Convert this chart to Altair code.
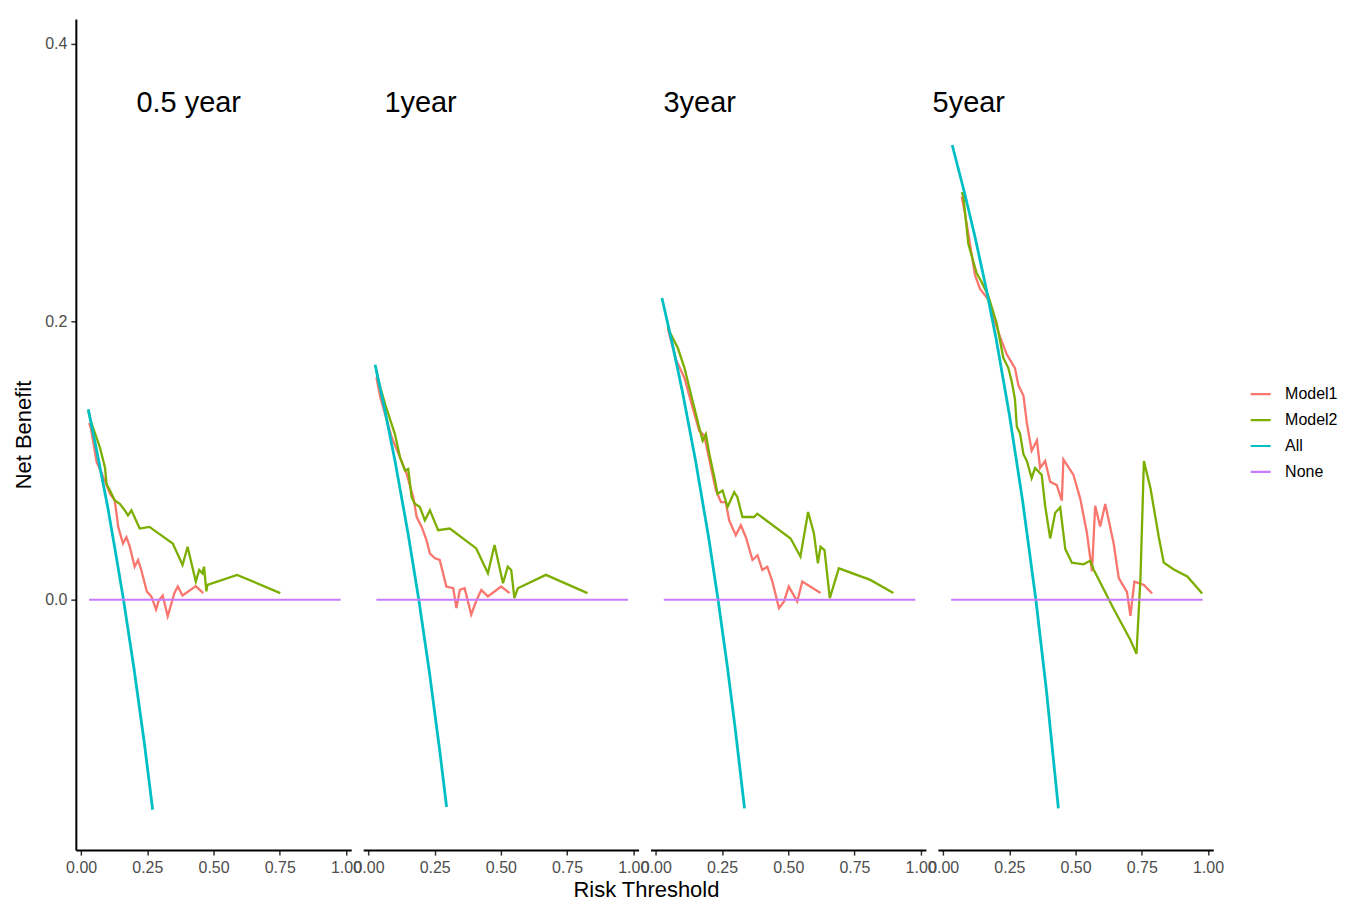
import altair as alt
import pandas as pd

FONT = "Liberation Sans"

panel_order = ["0.5 year", "1year", "3year", "5year"]
series_order = ["Model1", "Model2", "All", "None"]
series_colors = ["#F8766D", "#7CAE00", "#00BFC4", "#C77CFF"]

# panel title positions (left edge of text, baseline)
label_x = [0.209, 0.06, 0.029, -0.04]
label_y = [0.351, 0.351, 0.351, 0.351]

# ---- 0.5 year ----
all_05_x = [0.027, 0.06, 0.10, 0.13, 0.16, 0.20, 0.24, 0.27]
all_05_y = [0.137, 0.106, 0.067, 0.034, 0.0, -0.05, -0.105, -0.151]
m1_05_x = [0.03, 0.036, 0.059, 0.084, 0.110, 0.127, 0.140, 0.158, 0.171, 0.184, 0.202, 0.215,
           0.227, 0.248, 0.265, 0.283, 0.293, 0.308, 0.327, 0.352, 0.365, 0.383, 0.433, 0.461]
m1_05_y = [0.127, 0.124, 0.0988, 0.088, 0.076, 0.0714, 0.0524, 0.0405, 0.045, 0.038, 0.0238, 0.0286,
           0.0214, 0.006, 0.0024, -0.0071, -0.0005, 0.0031, -0.0119, 0.0048, 0.0095, 0.0031, 0.0098, 0.0048]
m2_05_x = [0.027, 0.036, 0.071, 0.090, 0.096, 0.115, 0.127, 0.146, 0.165, 0.177, 0.190, 0.221,
           0.258, 0.346, 0.383, 0.402, 0.433, 0.446, 0.458, 0.464, 0.473, 0.477, 0.589, 0.752]
m2_05_y = [0.136, 0.1286, 0.1095, 0.0952, 0.0833, 0.0762, 0.0714, 0.069, 0.0643, 0.0607, 0.0643, 0.0512,
           0.0524, 0.0405, 0.025, 0.0381, 0.0131, 0.0214, 0.019, 0.0238, 0.006, 0.0107, 0.0179, 0.0048]

# ---- 1 year ----
all_1_x = [0.025, 0.06, 0.10, 0.15, 0.19, 0.23, 0.27, 0.295]
all_1_y = [0.169, 0.138, 0.100, 0.047, 0.0, -0.052, -0.110, -0.149]
m1_1_x = [0.030, 0.044, 0.063, 0.088, 0.119, 0.144, 0.169, 0.182, 0.201, 0.219, 0.232, 0.251,
          0.269, 0.294, 0.320, 0.332, 0.345, 0.363, 0.388, 0.407, 0.426, 0.451, 0.501, 0.533]
m1_1_y = [0.160, 0.146, 0.1333, 0.1167, 0.1024, 0.0905, 0.0738, 0.0595, 0.0524, 0.0429, 0.0333, 0.0298,
          0.0286, 0.0095, 0.0083, -0.006, 0.0071, 0.0083, -0.0107, -0.0007, 0.0071, 0.0024, 0.0095, 0.0048]
m2_1_x = [0.030, 0.038, 0.063, 0.100, 0.119, 0.138, 0.150, 0.163, 0.175, 0.194, 0.213, 0.232,
          0.263, 0.307, 0.407, 0.451, 0.476, 0.508, 0.526, 0.539, 0.551, 0.564, 0.670, 0.827]
m2_1_y = [0.165, 0.157, 0.1405, 0.119, 0.1024, 0.0929, 0.094, 0.0738, 0.069, 0.0667, 0.0571, 0.0643,
          0.05, 0.0512, 0.0369, 0.019, 0.0393, 0.0119, 0.0238, 0.0214, 0.0012, 0.0083, 0.0179, 0.0048]

# ---- 3 year ----
all_3_x = [0.023, 0.06, 0.10, 0.15, 0.20, 0.235, 0.27, 0.30, 0.335]
all_3_y = [0.217, 0.186, 0.150, 0.100, 0.044, 0.0, -0.048, -0.093, -0.150]
m1_3_x = [0.045, 0.058, 0.076, 0.108, 0.139, 0.164, 0.183, 0.208, 0.227, 0.246, 0.264, 0.277, 0.302,
          0.321, 0.340, 0.365, 0.384, 0.402, 0.421, 0.440, 0.465, 0.484, 0.502, 0.534, 0.553, 0.622]
m1_3_y = [0.195, 0.186, 0.1726, 0.1595, 0.138, 0.1214, 0.118, 0.0952, 0.0786, 0.0702, 0.0702, 0.0571, 0.0464,
          0.0536, 0.045, 0.0286, 0.032, 0.0214, 0.0238, 0.0131, -0.006, -0.0012, 0.0095, -0.0012, 0.0131, 0.0048]
m2_3_x = [0.045, 0.051, 0.083, 0.108, 0.139, 0.164, 0.177, 0.189, 0.202, 0.221, 0.233, 0.252, 0.271, 0.296,
          0.308, 0.327, 0.371, 0.383, 0.509, 0.546, 0.575, 0.597, 0.612, 0.622, 0.637, 0.657, 0.691, 0.810, 0.897]
m2_3_y = [0.197, 0.193, 0.181, 0.1667, 0.1429, 0.1238, 0.1143, 0.119, 0.1048, 0.0881, 0.0762, 0.0786, 0.0667, 0.0774,
          0.0738, 0.0595, 0.0595, 0.0619, 0.044, 0.031, 0.0631, 0.0476, 0.0262, 0.0381, 0.0357, 0.0012, 0.0226, 0.0143, 0.0048]

# ---- 5 year ----
all_5_x = [0.034, 0.08, 0.12, 0.16, 0.20, 0.25, 0.30, 0.35, 0.39, 0.435]
all_5_y = [0.327, 0.293, 0.261, 0.226, 0.1875, 0.133, 0.071, 0.0, -0.0655, -0.150]
m1_5_x = [0.070, 0.082, 0.101, 0.120, 0.139, 0.170, 0.189, 0.215, 0.240, 0.271, 0.284, 0.303, 0.316, 0.334,
          0.354, 0.366, 0.385, 0.404, 0.429, 0.448, 0.454, 0.492, 0.518, 0.543, 0.562, 0.574, 0.593, 0.612,
          0.644, 0.663, 0.694, 0.707, 0.722, 0.758, 0.789]
m1_5_y = [0.290, 0.278, 0.256, 0.2335, 0.2235, 0.216, 0.2037, 0.1889, 0.1765, 0.1666, 0.1542, 0.1468, 0.127, 0.1072,
          0.1146, 0.0948, 0.0998, 0.0849, 0.0824, 0.0713, 0.101, 0.0898, 0.0724, 0.0478, 0.0205, 0.0676, 0.0527, 0.0688,
          0.0403, 0.0156, 0.0057, -0.0116, 0.0131, 0.0106, 0.0045]
m2_5_x = [0.070, 0.076, 0.095, 0.114, 0.126, 0.145, 0.170, 0.202, 0.227, 0.246, 0.259, 0.271, 0.278, 0.290,
          0.303, 0.316, 0.334, 0.347, 0.372, 0.385, 0.404, 0.423, 0.442, 0.461, 0.486, 0.530, 0.555, 0.568,
          0.644, 0.707, 0.730, 0.745, 0.758, 0.783, 0.814, 0.833, 0.871, 0.922, 0.978]
m2_5_y = [0.293, 0.290, 0.256, 0.243, 0.235, 0.2285, 0.2186, 0.1988, 0.174, 0.1666, 0.1567, 0.1443, 0.1245, 0.1196,
          0.1047, 0.0998, 0.0874, 0.0948, 0.0898, 0.0676, 0.0441, 0.0626, 0.0664, 0.0366, 0.0267, 0.0255, 0.028, 0.0218,
          -0.0067, -0.0289, -0.0389, 0.0156, 0.0997, 0.08, 0.0453, 0.0267, 0.0218, 0.0168, 0.0045]

# None (treat none) reference line
none_x = [0.03, 0.98]
none_y = [0.0, 0.0]

panels = {
    "0.5 year": {"Model1": (m1_05_x, m1_05_y), "Model2": (m2_05_x, m2_05_y), "All": (all_05_x, all_05_y)},
    "1year": {"Model1": (m1_1_x, m1_1_y), "Model2": (m2_1_x, m2_1_y), "All": (all_1_x, all_1_y)},
    "3year": {"Model1": (m1_3_x, m1_3_y), "Model2": (m2_3_x, m2_3_y), "All": (all_3_x, all_3_y)},
    "5year": {"Model1": (m1_5_x, m1_5_y), "Model2": (m2_5_x, m2_5_y), "All": (all_5_x, all_5_y)},
}

rows = []
for i, p in enumerate(panel_order):
    for s, (xs, ys) in panels[p].items():
        for k, (xv, yv) in enumerate(zip(xs, ys)):
            rows.append({"panel": p, "series": s, "x": xv, "y": yv, "idx": k, "label": ""})
    for k, (xv, yv) in enumerate(zip(none_x, none_y)):
        rows.append({"panel": p, "series": "None", "x": xv, "y": yv, "idx": k, "label": ""})
    rows.append({"panel": p, "series": "label", "x": label_x[i], "y": label_y[i], "idx": 0, "label": p})
df = pd.DataFrame(rows)

x_enc = alt.X("x:Q", scale=alt.Scale(domain=[-0.02, 1.02], nice=False, zero=False),
              axis=alt.Axis(values=[0, 0.25, 0.5, 0.75, 1.0], format=".2f", title=None, labelFlush=False))
y_enc = alt.Y("y:Q", scale=alt.Scale(domain=[-0.18, 0.4176], nice=False, zero=False),
              axis=alt.Axis(values=[0, 0.2, 0.4], format=".1f", title="Net Benefit", titlePadding=9))
color_enc = alt.Color("series:N",
                      scale=alt.Scale(domain=series_order, range=series_colors),
                      legend=alt.Legend(title=None, orient="none", legendX=1176, legendY=368,
                                        symbolType="stroke", symbolSize=400, symbolStrokeWidth=2.2,
                                        labelFontSize=16, labelColor="black", labelFont=FONT,
                                        labelOffset=13, clipHeight=16, rowPadding=10))

base = alt.Chart()

models = base.mark_line(strokeWidth=2.3).encode(
    x=x_enc, y=y_enc, color=color_enc, order="idx:Q", detail="series:N"
).transform_filter(alt.FieldOneOfPredicate(field="series", oneOf=["Model1", "Model2"]))

all_line = base.mark_line(strokeWidth=2.8).encode(
    x=x_enc, y=y_enc, color=color_enc, order="idx:Q"
).transform_filter(alt.datum.series == "All")

none_line = base.mark_line(strokeWidth=2).encode(
    x=x_enc, y=y_enc, color=color_enc, order="idx:Q"
).transform_filter(alt.datum.series == "None")

labels = base.mark_text(align="left", baseline="alphabetic", fontSize=29, font=FONT, color="black").encode(
    x=x_enc, y=y_enc, text="label:N"
).transform_filter(alt.datum.series == "label")

layered = alt.layer(models, all_line, none_line, labels, data=df).properties(width=276, height=833)

chart = layered.facet(
    column=alt.Column("panel:N", sort=panel_order, header=alt.Header(title=None, labels=False)),
    spacing=6,
).properties(
    title=alt.TitleParams("Risk Threshold", orient="bottom", anchor="middle", fontSize=22, font=FONT,
                          fontWeight="normal", color="black", offset=5, dx=-29),
    padding={"left": 4, "top": 10, "right": 0, "bottom": 0},
).configure_view(stroke=None).configure_axis(
    grid=False, domainColor="black", domainWidth=2, tickColor="#333333", tickWidth=1.5, tickSize=5,
    labelPadding=4, labelColor="#4D4D4D", labelFont=FONT, labelFontSize=16,
    titleFont=FONT, titleFontSize=22, titleFontWeight="normal", titleColor="black"
)

chart.save("out.html", embed_options={"renderer": "svg", "actions": False})
